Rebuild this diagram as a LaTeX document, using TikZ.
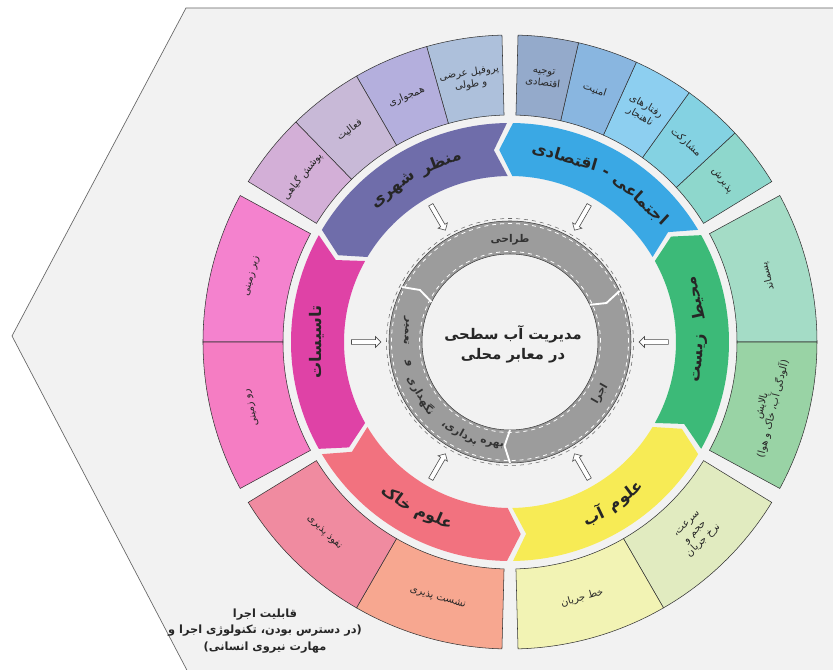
\documentclass[tikz,border=0pt]{standalone}
\usepackage{fontspec}
\usetikzlibrary{shapes.arrows}
\TeXXeTstate=1
\newfontfamily\fa[Script=Arabic]{DejaVu Sans}
\newcommand{\fatext}[1]{\beginR #1\endR}

% band colours
\definecolor{cUrb}{HTML}{6F6DAA}
\definecolor{cSoc}{HTML}{3AA8E4}
\definecolor{cEnv}{HTML}{3CBA78}
\definecolor{cWat}{HTML}{F7EB55}
\definecolor{cSoil}{HTML}{F2727F}
\definecolor{cFac}{HTML}{DF42A6}
% box colours
\definecolor{cProf}{HTML}{ADC0DB}
\definecolor{cHamj}{HTML}{B4AFDD}
\definecolor{cFaal}{HTML}{C8B9D7}
\definecolor{cPush}{HTML}{D3AFD7}
\definecolor{cTouj}{HTML}{94AACB}
\definecolor{cAmn}{HTML}{89B6E0}
\definecolor{cRaft}{HTML}{8DCFF0}
\definecolor{cMosh}{HTML}{84D2E2}
\definecolor{cPaz}{HTML}{8ED7CC}
\definecolor{cPasm}{HTML}{A4DCC6}
\definecolor{cPal}{HTML}{99D3A5}
\definecolor{cSor}{HTML}{E1EBC0}
\definecolor{cKhat}{HTML}{F2F3B4}
\definecolor{cNesh}{HTML}{F7A790}
\definecolor{cNof}{HTML}{F08BA0}
\definecolor{cZir}{HTML}{F482CE}
\definecolor{cRoo}{HTML}{F57DC3}
\definecolor{cRing}{HTML}{9C9C9C}
\definecolor{bgfill}{HTML}{F2F2F2}

\begin{document}
\begin{tikzpicture}[x=0.75pt, y=0.75pt,
    box/.style={draw=black!80, line width=0.4pt},
    boxlabel/.style={font=\fa\fontsize{7.5}{9}\selectfont, align=center, text=black!85, inner sep=0pt},
    bandlabel/.style={font=\fa\bfseries\fontsize{12}{14}\selectfont, text=black!85, inner sep=0pt},
    ringlabel/.style={font=\fa\bfseries\fontsize{8}{10}\selectfont, text=black!80, inner sep=0pt},
    hollowarrow/.style={single arrow, draw=black!70, fill=white, line width=0.45pt,
        minimum height=22pt, inner sep=1.6pt, single arrow head extend=2.2pt}]

    % Frame
    \useasboundingbox (-510,-328) rectangle (323,342);
    \clip (-510,-328) rectangle (323,342);
    \fill[white] (-510,-328) rectangle (323,342);
    \fill[bgfill] (340,334) -- (-324,334) -- (-498,6) -- (-320,-334) -- (340,-334) -- cycle;
    \draw[black!60, line width=0.5pt] (340,334) -- (-324,334) -- (-498,6) -- (-320,-334);

    % Outer ring of boxes
    \foreach \ta/\tb/\col/\txt/\off [count=\i] in {
        91.5/105.75/cProf/{\fatext{پروفیل عرضی}\\\fatext{و طولی}}/-90,
        105.75/120/cHamj/{\fatext{همجواری}}/-90,
        120/134.25/cFaal/{\fatext{فعالیت}}/-90,
        134.25/148.5/cPush/{\fatext{پوشش گیاهی}}/-90,
        31.5/42.9/cPaz/{\fatext{پذیرش}}/-90,
        42.9/54.3/cMosh/{\fatext{مشارکت}}/-90,
        54.3/65.7/cRaft/{\fatext{رفتارهای}\\\fatext{ناهنجار}}/-90,
        65.7/77.1/cAmn/{\fatext{امنیت}}/-90,
        77.1/88.5/cTouj/{\fatext{توجیه}\\\fatext{اقتصادی}}/-90,
        0/28.5/cPasm/{\fatext{پسماند}}/90,
        -28.5/0/cPal/{\fatext{پالایش}\\\fatext{(آلودگی آب، خاک و هوا)}}/90,
        -60/-31.5/cSor/{\fatext{سرعت،}\\\fatext{حجم و}\\\fatext{نرخ جریان}}/90,
        -88.5/-60/cKhat/{\fatext{خط جریان}}/90,
        -120/-91.5/cNesh/{\fatext{نشست پذیری}}/90,
        -148.5/-120/cNof/{\fatext{نفوذ پذیری}}/90,
        151.5/180/cZir/{\fatext{زیر زمینی}}/-90,
        180/208.5/cRoo/{\fatext{رو زمینی}}/-90}
    {
        \draw[box, fill=\col] (\ta:227) arc[start angle=\ta, end angle=\tb, radius=227]
            -- (\tb:307) arc[start angle=\tb, end angle=\ta, radius=307] -- cycle;
        \pgfmathsetmacro\boxmid{(\ta+\tb)/2}
        \pgfmathsetmacro\boxrot{\boxmid+\off}
        \node[boxlabel, rotate=\boxrot] (box\i) at (\boxmid:266) {\txt};
    }

    % Middle ring of arrow bands
    \foreach \ta/\col in {30/cSoc, 90/cUrb, 150/cFac, 210/cSoil, 270/cWat, 330/cEnv}
        \fill[\col] (\ta+0.8:219) -- (\ta+4.8:192.5) -- (\ta+0.8:166)
            arc[start angle=\ta+0.8, end angle=\ta+59.2, radius=166]
            -- (\ta+63.2:192.5) -- (\ta+59.2:219)
            arc[start angle=\ta+59.2, end angle=\ta+0.8, radius=219] -- cycle;

    \foreach \ang/\rad/\rot/\w [count=\i] in {
        111/192/21/منظر, 127.5/191/37.5/شهری,
        47.5/193/-42.5/اجتماعی, 60.5/193/-29.5/-, 73.5/193/-16.5/اقتصادی,
        13/191/103/محیط, -5/191/85/زیست,
        -53/193/37/علوم, -64.5/193/25.5/آب,
        -113.5/192/-23.5/علوم, -126/192/-36/خاک,
        180/193/90/تاسیسات}
        \node[bandlabel, rotate=\rot] (word\i) at (\ang:\rad) {\fatext{\w}};

    % Arrows to the core
    \foreach \ang [count=\i] in {120,60,0,-60,-120,180}
        \node[hollowarrow, rotate=\ang+180] (arr\i) at (\ang:145) {};

    % Core ring
    \fill[cRing, even odd rule] (0,0) circle (121) (0,0) circle (88);
    \draw[black!75, line width=0.4pt] (0,0) circle (121);
    \draw[black!75, line width=0.4pt] (0,0) circle (88);
    \draw[black!60, dashed, line width=0.4pt] (0,0) circle (123.5);
    \draw[white, dashed, line width=0.6pt] (0,0) circle (118.5);
    \draw[white, dashed, line width=0.6pt] (0,0) circle (90.5);
    \foreach \ang in {153,25,-90}
        \draw[white, line width=1.4pt] (\ang:88) -- (\ang-3:104) -- (\ang:121);

    \node[ringlabel] (design) at (90:102) {\fatext{طراحی}};
    \node[ringlabel, rotate=60] (build) at (-30:104) {\fatext{اجرا}};
    \foreach \ang/\w [count=\i] in {-100/بهره, -119/برداری،, -149/نگهداری, -168/و, -186/تعمیر}
        \node[ringlabel, rotate=\ang+90] (run\i) at (\ang:104) {\fatext{\w}};

    % Centre
    \node[font=\fa\bfseries\fontsize{11}{15}\selectfont, align=center, text=black!85] (core) at (3,-2)
        {\fatext{مدیریت آب سطحی}\\\fatext{در معابر محلی}};

    % Note
    \node[font=\fa\bfseries\fontsize{8.5}{12.5}\selectfont, align=center, text=black!85] (note) at (-245,-289)
        {\fatext{قابلیت اجرا}\\\fatext{(در دسترس بودن، تکنولوژی اجرا و}\\\fatext{مهارت نیروی انسانی)}};
\end{tikzpicture}
\end{document}
